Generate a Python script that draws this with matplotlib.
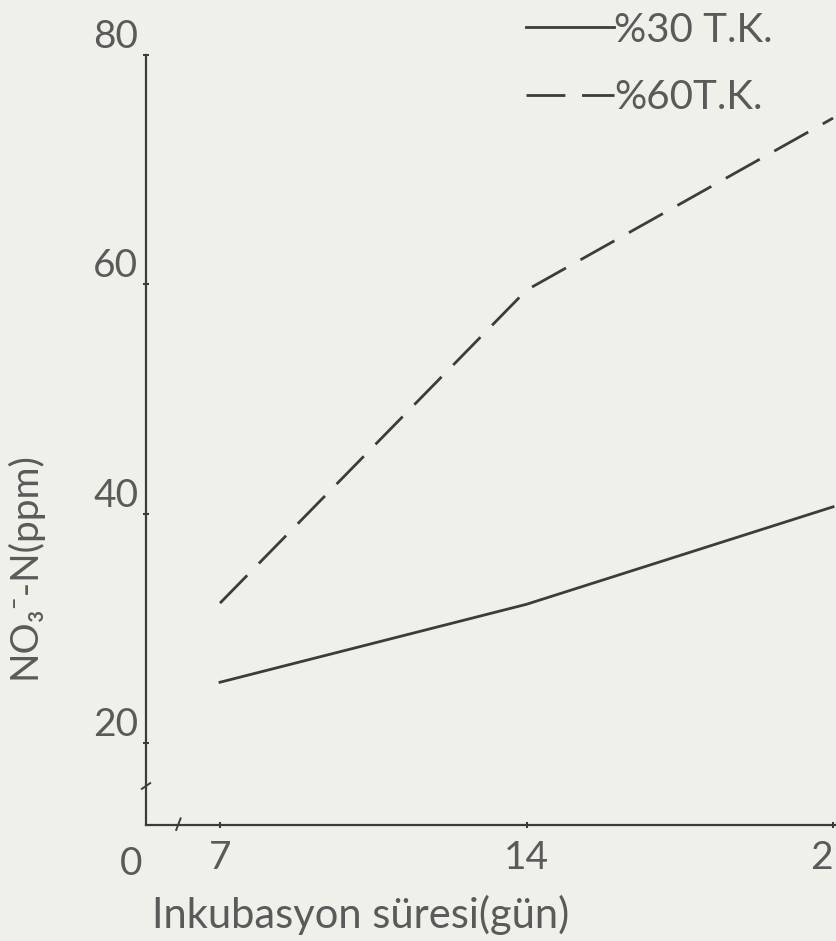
import matplotlib
matplotlib.use("Agg")
import matplotlib.pyplot as plt
import matplotlib.transforms as mtransforms
import numpy as np

# data
days = [7, 14, 21]
tk30 = [25.3, 32.1, 40.6]   # %30 T.K.
tk60 = [32.2, 59.5, 74.5]   # %60 T.K.

x_ticks = [7, 14, 21]
y_ticks = [20, 40, 60, 80]

bg = '#f0f0ea'
ink = '#3c3c3c'
txt = '#5a5a5a'
plt.rcParams['font.family'] = ['Lato', 'DejaVu Sans']

fig = plt.figure(figsize=(8.37, 9.41), dpi=100, facecolor=bg)
ax = fig.add_axes([146/837, (941-825)/941, 1-146/837, 825/941])
ax.set_facecolor(bg)

ax.plot(days, tk30, color=ink, lw=2.0, label='%30 T.K.')
ax.plot(days, tk60, color=ink, lw=2.0, dashes=(14, 6), label='%60T.K.')

# broken axes: the origin is labelled 0 but the scale starts near 7 / 20
ax.set_xlim(5.31, 21.09)
ax.set_ylim(12.85, 84.8)

for s in ['top', 'right']:
    ax.spines[s].set_visible(False)
ax.spines['left'].set_bounds(12.85, 80)
for s in ['left', 'bottom']:
    ax.spines[s].set_color(ink)
    ax.spines[s].set_linewidth(1.6)

ax.set_xticks(x_ticks)
ax.set_yticks(y_ticks)
ax.tick_params(direction='inout', length=5, width=1.5, color=ink,
               labelsize=28, labelcolor=txt)
ax.tick_params(axis='x', pad=8)
ax.tick_params(axis='y', pad=3)
for lbl in ax.get_yticklabels():
    lbl.set_verticalalignment('bottom')

# origin label and break marks
ax.text(-0.022, -0.025, '0', transform=ax.transAxes, ha='center', va='top',
        fontsize=28, color=txt)
tx = mtransforms.blended_transform_factory(ax.transData, ax.transAxes)
ax.plot([6.0, 6.1], [-0.006, 0.008], transform=tx, color=ink, lw=1.4, clip_on=False)
ty = mtransforms.blended_transform_factory(ax.transAxes, ax.transData)
ax.plot([-0.006, 0.006], [16.0, 16.5], transform=ty, color=ink, lw=1.4, clip_on=False)

ax.set_xlabel('Inkubasyon süresi(gün)', fontsize=30, color=txt)
ax.xaxis.set_label_coords(0.31, -0.085)
ax.set_ylabel('NO₃⁻-N(ppm)', fontsize=28, color=txt)
ax.yaxis.set_label_coords(-0.15, 0.315)

leg = ax.legend(loc='upper right', bbox_to_anchor=(0.96, 1.03), frameon=False,
                fontsize=29, handlelength=2.2, handletextpad=0.0,
                labelspacing=0.75, labelcolor=txt)

fig.savefig('out.png', dpi=100, facecolor=bg)
